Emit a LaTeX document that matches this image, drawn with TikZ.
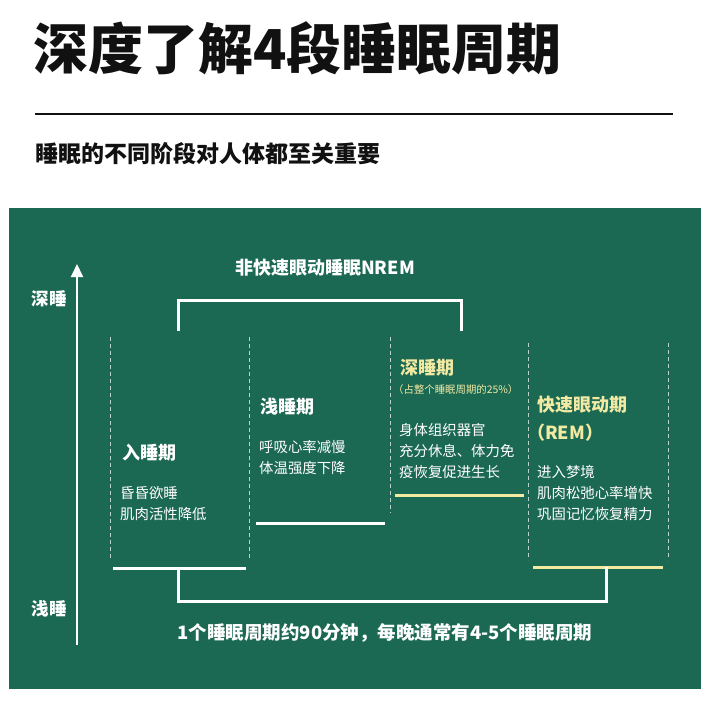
\documentclass[tikz,border=0pt]{standalone}
\usepackage{fontspec}
\setmainfont{Noto Sans CJK SC}
\usetikzlibrary{arrows.meta,positioning}
\definecolor{board}{HTML}{1C6953}
\definecolor{chalk}{HTML}{F2E9A3}
\definecolor{ink}{HTML}{111111}

\begin{document}
\begin{tikzpicture}[x=1pt, y=-1pt,
  head/.style={font=\bfseries\fontsize{18}{18}\selectfont, text=white, anchor=west, inner sep=0pt},
  body/.style={font=\fontsize{14.4}{21}\selectfont, text=white, anchor=west, align=left, inner sep=0pt},
  tag/.style={font=\bfseries\fontsize{18}{18}\selectfont, text=white, inner sep=0pt},
  level/.style={line width=3pt, white, line cap=butt},
  guide/.style={draw=white!70!board, dash pattern=on 4pt off 3pt, line width=0.8pt},
  >=Stealth]
  \useasboundingbox (0,0) rectangle (710,701);
  \fill[white] (0,0) rectangle (710,701);
  % header
  \node[font=\bfseries\fontsize{55}{55}\selectfont, text=ink, anchor=west, inner sep=0pt] (title) at (33,48) {深度了解4段睡眠周期};
  \coordinate (rulel) at (35,114);
  \coordinate (ruler) at (673,114);
  \draw[ink, line width=1.8pt] (rulel) -- (ruler);
  \node[font=\bfseries\fontsize{23}{23}\selectfont, text=ink, anchor=west, inner sep=0pt] (sub) at (35,154) {睡眠的不同阶段对人体都至关重要};
  % board
  \fill[board] (9,208) rectangle (701,689);
  % axis
  \coordinate (axisbot) at (77,645);
  \coordinate (axistop) at (77,264);
  \draw[white, line width=2pt, -{Triangle[width=12pt,length=13pt]}] (axisbot) -- (axistop);
  \node[tag, font=\bfseries\fontsize{17.5}{17.5}\selectfont] (deep) at (49,299) {深睡};
  \node[tag, font=\bfseries\fontsize{17.5}{17.5}\selectfont] (light) at (49,609) {浅睡};
  % column guides
  \foreach \gx/\gt/\gb in {110/337/560, 249/337/560, 390/337/513, 528/343/560, 668/343/560}
    \draw[guide] (\gx,\gt) -- (\gx,\gb);
  % NREM bracket
  \node[tag] (nrem) at (325,268) {非快速眼动睡眠NREM};
  \coordinate (nremL) at (178,331);
  \coordinate (nremR) at (461,331);
  \draw[level] (nremL) |- (nremR |- 0,300) -- (nremR);
  % stage 1
  \node[head] (s1) at (122,453) {入睡期};
  \node[body] (s1t) at (120,504) {昏昏欲睡\\肌肉活性降低};
  \coordinate (s1a) at (113,568);
  \coordinate (s1b) at (246,568);
  \draw[level] (s1a) -- (s1b);
  % stage 2
  \node[head] (s2) at (260,407) {浅睡期};
  \node[body] (s2t) at (259,458) {呼吸心率减慢\\体温强度下降};
  \coordinate (s2a) at (256,523);
  \coordinate (s2b) at (385,523);
  \draw[level] (s2a) -- (s2b);
  % stage 3
  \node[head, text=chalk] (s3) at (400,368) {深睡期};
  \node[font=\fontsize{10.4}{10.4}\selectfont, text=chalk, anchor=west, inner sep=0pt] (s3n) at (393,390) {（占整个睡眠周期的25\%）};
  \node[body] (s3t) at (399,451) {身体组织器官\\充分休息、体力免\\疫恢复促进生长};
  \coordinate (s3a) at (395,495);
  \coordinate (s3b) at (524,495);
  \draw[level, chalk] (s3a) -- (s3b);
  % stage 4
  \node[head, text=chalk] (s4) at (537,405) {快速眼动期};
  \node[head, text=chalk] (s4n) at (527,433) {（REM）};
  \node[body] (s4t) at (537,493) {进入梦境\\肌肉松弛心率增快\\巩固记忆恢复精力};
  \coordinate (s4a) at (533,567);
  \coordinate (s4b) at (663,567);
  \draw[level, chalk] (s4a) -- (s4b);
  % cycle bracket
  \coordinate (cycL) at (178,568);
  \coordinate (cycR) at (606,567);
  \draw[level] (cycL) |- (cycR |- 0,601) -- (cycR);
  \node[tag, font=\bfseries\fontsize{18.5}{18.5}\selectfont] (cycle) at (385,633) {1个睡眠周期约90分钟，每晚通常有4-5个睡眠周期};
\end{tikzpicture}
\end{document}
